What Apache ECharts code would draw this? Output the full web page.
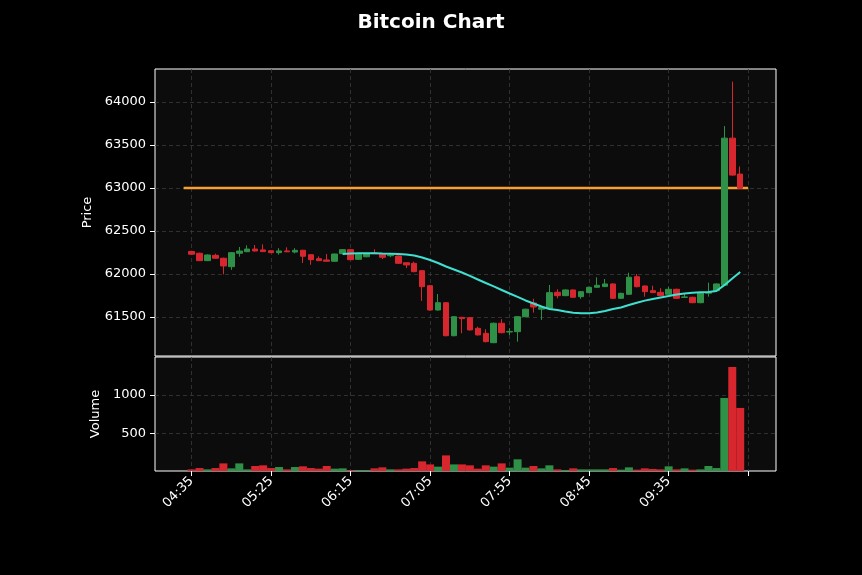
<!DOCTYPE html>
<html>
<head>
<meta charset="utf-8">
<title>Bitcoin Chart</title>
<script src="https://cdn.jsdelivr.net/npm/echarts@6/dist/echarts.min.js"></script>
<style>
    html, body { margin: 0; padding: 0; background: #000; }
    #main { width: 862px; height: 575px; }
</style>
</head>
<body>
<div id="main"></div>
<script>
'use strict';

// 5 minute bars, index 0 = 04:35
const tickIdx = [0, 10, 20, 30, 40, 50, 60, 70];
const tickLabels = ['04:35', '05:25', '06:15', '07:05', '07:55', '08:45', '09:35', ''];
const priceTicks = [61500, 62000, 62500, 63000, 63500, 64000];
const volumeTicks = [500, 1000];

const opens = [62262, 62241, 62155, 62217, 62183, 62085, 62241, 62259, 62290, 62280,
    62270, 62248, 62268, 62255, 62276, 62224, 62178, 62163, 62148, 62236,
    62283, 62170, 62200, 62244, 62229, 62212, 62209, 62131, 62124, 62038,
    61864, 61581, 61666, 61282, 61496, 61492, 61368, 61310, 61201, 61427,
    61325, 61329, 61503, 61663, 61590, 61601, 61787, 61748, 61814, 61736,
    61783, 61845, 61853, 61884, 61717, 61764, 61969, 61860, 61806, 61787,
    61764, 61822, 61728, 61729, 61666, 61776, 61806, 61870, 63580, 63162];
const closes = [62230, 62155, 62221, 62183, 62093, 62248, 62267, 62290, 62267, 62260,
    62248, 62268, 62258, 62275, 62206, 62166, 62155, 62148, 62232, 62283,
    62166, 62229, 62232, 62236, 62194, 62220, 62124, 62105, 62027, 61852,
    61581, 61666, 61282, 61503, 61480, 61349, 61291, 61213, 61427, 61317,
    61332, 61503, 61590, 61616, 61610, 61783, 61748, 61814, 61729, 61794,
    61845, 61868, 61884, 61717, 61775, 61962, 61852, 61794, 61783, 61748,
    61822, 61717, 61733, 61666, 61783, 61787, 61884, 63580, 63150, 62996];
const lows = [62222, 62150, 62150, 62178, 61996, 62047, 62201, 62255, 62262, 62255,
    62243, 62225, 62255, 62240, 62127, 62107, 62150, 62145, 62145, 62230,
    62160, 62165, 62195, 62232, 62172, 62195, 62120, 62068, 62020, 61686,
    61575, 61575, 61275, 61275, 61310, 61343, 61285, 61205, 61195, 61310,
    61290, 61213, 61497, 61550, 61465, 61595, 61717, 61742, 61722, 61712,
    61777, 61840, 61848, 61710, 61710, 61758, 61845, 61736, 61778, 61742,
    61758, 61710, 61722, 61660, 61660, 61736, 61800, 61860, 63145, 62990];
const highs = [62270, 62248, 62228, 62236, 62190, 62255, 62314, 62333, 62337, 62345,
    62275, 62300, 62310, 62300, 62280, 62228, 62205, 62233, 62236, 62290,
    62290, 62235, 62236, 62287, 62232, 62245, 62215, 62135, 62143, 62045,
    61870, 61767, 61672, 61510, 61500, 61500, 61387, 61357, 61435, 61474,
    61368, 61510, 61597, 61712, 61630, 61872, 61822, 61820, 61820, 61800,
    61852, 61961, 61942, 61892, 61782, 62015, 62000, 61866, 61864, 61834,
    61850, 61828, 61776, 61735, 61790, 61899, 61890, 63720, 64237, 63250];
const volumes = [41, 58, 41, 58, 118, 54, 118, 41, 84, 93,
    58, 71, 41, 71, 80, 58, 50, 84, 50, 54,
    29, 29, 29, 54, 67, 41, 41, 50, 58, 144,
    105, 76, 221, 105, 105, 93, 50, 93, 76, 118,
    63, 170, 63, 84, 54, 93, 41, 33, 54, 41,
    41, 41, 41, 58, 37, 67, 37, 54, 46, 41,
    80, 41, 54, 37, 41, 84, 58, 960, 1357, 832];

// moving average line (starts at index 19)
const maStart = 19;
const maValues = [62233, 62238, 62241, 62241, 62241, 62238, 62236, 62233, 62227, 62215,
    62192, 62163, 62128, 62087, 62052, 62017, 61977, 61936, 61895, 61855,
    61814, 61773, 61733, 61692, 61657, 61622, 61593, 61581, 61564, 61550,
    61543, 61543, 61552, 61570, 61593, 61610, 61639, 61666, 61690, 61709,
    61727, 61744, 61762, 61773, 61783, 61787, 61791, 61802, 61870, 61948,
    62023];

// horizontal reference level
const refLevel = 63000;
const refFrom = -1;
const refTo = 70;

const UP = '#2e9147';
const DOWN = '#d8262e';
const FONT = 'DejaVu Sans';

let candleData = opens.map((o, i) => [i, o, closes[i], lows[i], highs[i]]);
let volData = volumes.map((v, i) => ({
    value: [i, v],
    itemStyle: {color: closes[i] >= opens[i] ? UP : DOWN}
}));
let maData = maValues.map((v, k) => [maStart + k, v]);

let gridLine = {show: true, lineStyle: {color: '#3a3a3a', type: [4, 3], width: 0.8}};
let plainNum = v => String(v);

let myChart = echarts.init(document.getElementById('main'));
let option = {
    backgroundColor: '#000',
    animation: false,
    title: {
        text: 'Bitcoin Chart',
        left: 'center',
        top: 8,
        textStyle: {color: '#fff', fontSize: 20, fontWeight: 'bold', fontFamily: FONT}
    },
    grid: [
        {left: 155, top: 69, width: 621, height: 287, show: true, backgroundColor: '#0c0c0c', borderColor: '#fff', borderWidth: 1},
        {left: 155, top: 357, width: 621, height: 114, show: true, backgroundColor: '#0c0c0c', borderColor: '#fff', borderWidth: 1}
    ],
    xAxis: [
        {
            type: 'value', gridIndex: 0, min: -4.6, max: 73.5,
            axisLine: {show: false, onZero: false},
            axisTick: {show: false, customValues: tickIdx},
            axisLabel: {show: false, customValues: tickIdx},
            splitLine: gridLine
        },
        {
            type: 'value', gridIndex: 1, min: -4.6, max: 73.5,
            axisLine: {show: false, onZero: false},
            axisTick: {show: true, length: 5, customValues: tickIdx, lineStyle: {color: '#fff'}},
            axisLabel: {
                customValues: tickIdx,
                rotate: 45,
                margin: 8,
                color: '#fff',
                fontSize: 13,
                fontFamily: FONT,
                formatter: function (v) {
                    let k = tickIdx.indexOf(Math.round(v));
                    return k >= 0 ? tickLabels[k] : '';
                }
            },
            splitLine: gridLine
        }
    ],
    yAxis: [
        {
            type: 'value', gridIndex: 0, min: 61046, max: 64384,
            name: 'Price', nameLocation: 'middle', nameGap: 54, nameRotate: 90,
            nameTextStyle: {color: '#fff', fontSize: 13, fontFamily: FONT},
            axisLine: {show: false, onZero: false},
            axisTick: {show: true, length: 5, customValues: priceTicks, lineStyle: {color: '#fff'}},
            axisLabel: {customValues: priceTicks, formatter: plainNum, margin: 9, color: '#fff', fontSize: 13, fontFamily: FONT},
            splitLine: gridLine
        },
        {
            type: 'value', gridIndex: 1, min: 20, max: 1487,
            name: 'Volume', nameLocation: 'middle', nameGap: 45, nameRotate: 90,
            nameTextStyle: {color: '#fff', fontSize: 13, fontFamily: FONT},
            axisLine: {show: false, onZero: false},
            axisTick: {show: true, length: 5, customValues: volumeTicks, lineStyle: {color: '#fff'}},
            axisLabel: {customValues: volumeTicks, formatter: plainNum, margin: 9, color: '#fff', fontSize: 13, fontFamily: FONT},
            splitLine: gridLine
        }
    ],
    series: [
        {
            type: 'candlestick',
            xAxisIndex: 0, yAxisIndex: 0,
            barWidth: 6,
            encode: {x: 0, y: [1, 2, 3, 4]},
            itemStyle: {color: UP, color0: DOWN, borderColor: UP, borderColor0: DOWN, borderWidth: 1},
            data: candleData,
            z: 3
        },
        {
            type: 'line',
            xAxisIndex: 0, yAxisIndex: 0,
            data: maData,
            showSymbol: false,
            lineStyle: {color: '#40e0d0', width: 2},
            z: 4
        },
        {
            type: 'line',
            xAxisIndex: 0, yAxisIndex: 0,
            data: [[refFrom, refLevel], [refTo, refLevel]],
            showSymbol: false,
            lineStyle: {color: '#f5a030', width: 2.5},
            z: 2
        },
        {
            type: 'bar',
            xAxisIndex: 1, yAxisIndex: 1,
            barWidth: 8,
            data: volData
        }
    ]
};
myChart.setOption(option);
</script>
</body>
</html>
